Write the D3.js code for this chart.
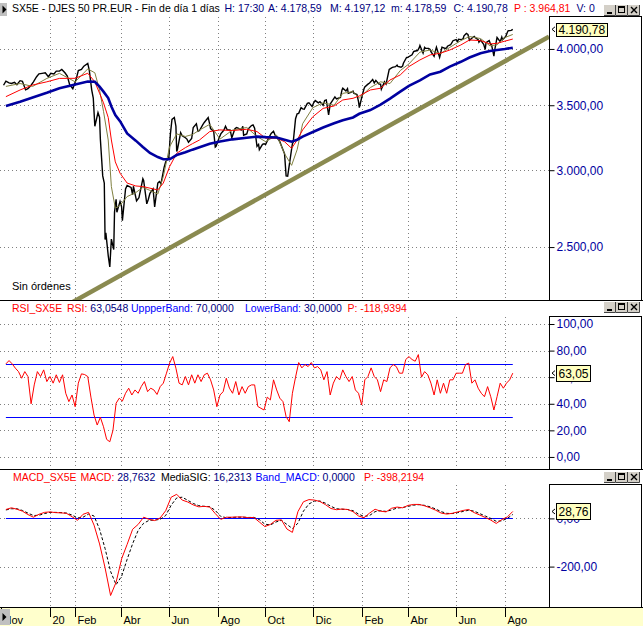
<!DOCTYPE html>
<html>
<head>
<meta charset="utf-8">
<script src="https://cdn.jsdelivr.net/npm/d3@7"></script>
<style>
    html, body { margin: 0; padding: 0; background: #ffffff; }
    svg { display: block; }
</style>
</head>
<body>
<svg id="chart"></svg>
<script>
const priceData = [
    ['2019-11-04',3670],['2019-11-07',3705],['2019-11-11',3690],['2019-11-14',3685],['2019-11-18',3695],['2019-11-21',3675],['2019-11-25',3710],['2019-11-28',3705],
    ['2019-12-02',3630],['2019-12-05',3640],['2019-12-09',3670],['2019-12-12',3700],['2019-12-16',3745],['2019-12-19',3770],['2019-12-23',3775],['2019-12-27',3780],['2019-12-31',3745],
    ['2020-01-03',3775],['2020-01-07',3770],['2020-01-10',3795],['2020-01-14',3795],['2020-01-17',3810],['2020-01-21',3780],['2020-01-24',3750],['2020-01-27',3675],['2020-01-31',3640],
    ['2020-02-04',3715],['2020-02-07',3800],['2020-02-11',3810],['2020-02-14',3840],['2020-02-19',3865],['2020-02-21',3800],['2020-02-24',3630],['2020-02-26',3560],['2020-02-28',3330],
    ['2020-03-03',3440],['2020-03-05',3400],['2020-03-06',3230],['2020-03-09',2960],['2020-03-11',2910],['2020-03-12',2545],['2020-03-13',2586],['2020-03-16',2450],['2020-03-18',2385],
    ['2020-03-20',2548],['2020-03-23',2485],['2020-03-24',2716],['2020-03-26',2800],['2020-03-27',2715],['2020-03-31',2786],
    ['2020-04-02',2750],['2020-04-03',2662],['2020-04-07',2870],['2020-04-09',2893],['2020-04-14',2880],['2020-04-16',2830],['2020-04-17',2888],['2020-04-21',2790],['2020-04-24',2810],['2020-04-29',2940],['2020-04-30',2928],
    ['2020-05-04',2770],['2020-05-06',2800],['2020-05-08',2840],['2020-05-12',2870],['2020-05-14',2750],['2020-05-18',2910],['2020-05-20',2920],['2020-05-22',2905],['2020-05-26',3020],['2020-05-28',3060],
    ['2020-06-01',3090],['2020-06-03',3270],['2020-06-05',3384],['2020-06-08',3400],['2020-06-10',3330],['2020-06-11',3137],['2020-06-12',3153],['2020-06-16',3280],['2020-06-18',3255],['2020-06-22',3240],['2020-06-24',3230],['2020-06-26',3206],['2020-06-30',3234],
    ['2020-07-02',3320],['2020-07-06',3350],['2020-07-08',3290],['2020-07-10',3296],['2020-07-14',3340],['2020-07-16',3360],['2020-07-21',3400],['2020-07-23',3345],['2020-07-24',3311],['2020-07-28',3290],['2020-07-30',3170],['2020-07-31',3175],
    ['2020-08-04',3240],['2020-08-06',3270],['2020-08-10',3300],['2020-08-12',3330],['2020-08-14',3303],['2020-08-18',3300],['2020-08-20',3240],['2020-08-24',3310],['2020-08-26',3320],['2020-08-28',3315],
    ['2020-09-01',3300],['2020-09-03',3330],['2020-09-04',3260],['2020-09-08',3270],['2020-09-10',3310],['2020-09-14',3335],['2020-09-16',3340],['2020-09-18',3315],['2020-09-21',3175],['2020-09-23',3190],['2020-09-24',3150],['2020-09-28',3190],['2020-09-30',3194],
    ['2020-10-02',3190],['2020-10-06',3240],['2020-10-09',3273],['2020-10-12',3290],['2020-10-14',3260],['2020-10-16',3245],['2020-10-20',3210],['2020-10-22',3180],['2020-10-26',3120],['2020-10-28',2960],['2020-10-30',2958],
    ['2020-11-03',3115],['2020-11-05',3195],['2020-11-06',3206],['2020-11-09',3390],['2020-11-11',3430],['2020-11-13',3433],['2020-11-16',3480],['2020-11-18',3470],['2020-11-20',3468],['2020-11-24',3515],['2020-11-26',3520],['2020-11-30',3490],
    ['2020-12-02',3520],['2020-12-04',3539],['2020-12-08',3520],['2020-12-10',3530],['2020-12-14',3500],['2020-12-16',3540],['2020-12-18',3545],['2020-12-21',3420],['2020-12-23',3510],['2020-12-29',3570],['2020-12-31',3553],
    ['2021-01-05',3565],['2021-01-07',3630],['2021-01-08',3645],['2021-01-12',3620],['2021-01-14',3640],['2021-01-15',3600],['2021-01-19',3610],['2021-01-21',3620],['2021-01-22',3602],['2021-01-26',3590],['2021-01-28',3530],['2021-01-29',3481],
    ['2021-02-02',3590],['2021-02-04',3640],['2021-02-05',3656],['2021-02-09',3680],['2021-02-11',3690],['2021-02-15',3720],['2021-02-17',3690],['2021-02-19',3713],['2021-02-23',3680],['2021-02-25',3680],['2021-02-26',3636],
    ['2021-03-02',3700],['2021-03-04',3680],['2021-03-08',3810],['2021-03-10',3820],['2021-03-12',3829],['2021-03-16',3835],['2021-03-18',3850],['2021-03-19',3837],['2021-03-23',3830],['2021-03-25',3840],['2021-03-26',3867],['2021-03-30',3920],['2021-03-31',3919],
    ['2021-04-06',3945],['2021-04-08',3975],['2021-04-09',3978],['2021-04-13',3985],['2021-04-15',4010],['2021-04-16',4032],['2021-04-20',3960],['2021-04-22',4015],['2021-04-23',4007],['2021-04-27',4005],['2021-04-29',3995],['2021-04-30',3974],
    ['2021-05-04',3930],['2021-05-06',3990],['2021-05-07',4017],['2021-05-11',3920],['2021-05-12',3950],['2021-05-14',4017],['2021-05-18',4005],['2021-05-20',4010],['2021-05-21',4026],['2021-05-25',4040],['2021-05-27',4065],['2021-05-28',4079],
    ['2021-06-01',4090],['2021-06-03',4070],['2021-06-04',4094],['2021-06-08',4090],['2021-06-10',4100],['2021-06-11',4127],['2021-06-14',4150],['2021-06-16',4140],['2021-06-18',4083],['2021-06-22',4110],['2021-06-24',4120],['2021-06-25',4111],['2021-06-29',4090],['2021-06-30',4064],
    ['2021-07-02',4084],['2021-07-06',4045],['2021-07-08',3995],['2021-07-09',4060],['2021-07-13',4080],['2021-07-15',4040],['2021-07-16',4040],['2021-07-19',3933],['2021-07-20',3990],['2021-07-22',4070],['2021-07-23',4110],['2021-07-27',4070],['2021-07-29',4115],['2021-07-30',4089],
    ['2021-08-03',4120],['2021-08-05',4160],['2021-08-06',4176],['2021-08-10',4180],['2021-08-12',4190.78]
];

// moving averages, read at these dates
const maDates = [
    '2019-11-07','2019-11-25','2019-12-11','2019-12-29','2020-01-14','2020-02-03','2020-02-19','2020-02-28','2020-03-05','2020-03-10',
    '2020-03-16','2020-03-20','2020-03-25','2020-03-31','2020-04-09','2020-04-20','2020-04-29','2020-05-08','2020-05-18','2020-05-25',
    '2020-06-02','2020-06-11','2020-06-22','2020-07-01','2020-07-10','2020-07-23','2020-08-05','2020-08-21','2020-09-08','2020-09-21',
    '2020-10-02','2020-10-16','2020-10-26','2020-11-04','2020-11-11','2020-11-18','2020-12-01','2020-12-14','2020-12-28','2021-01-08',
    '2021-01-21','2021-01-29','2021-02-12','2021-02-25','2021-03-09','2021-03-22','2021-04-02','2021-04-16','2021-04-29','2021-05-12',
    '2021-05-24','2021-06-07','2021-06-18','2021-07-02','2021-07-14','2021-07-23','2021-08-02','2021-08-12'
];
const maFast = [
    3660,3685,3660,3730,3775,3700,3815,3780,3629,3450,
    3223,2886,2742,2760,2818,2845,2880,2860,2835,2956,
    3172,3270,3250,3265,3300,3345,3230,3300,3320,3250,
    3210,3260,3120,3035,3150,3350,3480,3520,3500,3600,
    3615,3560,3650,3700,3685,3800,3860,3970,3990,3955,
    4015,4080,4120,4100,4030,4040,4110,4140
];
const maMid = [
    3572,3629,3672,3700,3730,3731,3776,3700,3601,3520,
    3400,3223,3060,2979,2910,2890,2886,2875,2863,2910,
    3026,3123,3165,3195,3223,3288,3301,3296,3306,3288,
    3237,3237,3210,3160,3223,3301,3406,3474,3494,3544,
    3558,3578,3629,3644,3716,3761,3836,3897,3944,3960,
    3990,4038,4086,4080,4048,4054,4075,4095
];
const maSlow = [
    3494,3530,3565,3605,3644,3677,3703,3700,3658,3615,
    3560,3490,3420,3370,3274,3218,3170,3125,3095,3079,
    3079,3110,3130,3150,3168,3195,3212,3228,3240,3249,
    3245,3242,3225,3210,3225,3249,3285,3320,3353,3378,
    3400,3430,3460,3505,3555,3615,3665,3712,3765,3790,
    3836,3880,3920,3960,3980,3990,4000,4012
];
const trendLine = [['2020-01-14', 2156], ['2021-09-27', 4119]];

// RSI, one reading every 4 days
const rsiStart = '2019-11-07';
const rsiStepDays = 4;
const rsiValues = [
    70,72.5,70,66.8,64.2,59.2,64.2,60.5,40,54.2,
    64.2,60.5,65.5,56.7,60.5,55.5,61.8,56,61.8,47.9,
    41.6,46.6,37.8,55.5,62.5,62,60.5,45,31.5,24,
    29.8,22.7,13.2,11.4,20,40.4,44.2,42,47.9,51.7,
    46.6,50.4,47.9,53,56.7,49.1,51.7,50.4,47,52.9,
    55.5,63,70.6,75.5,66.8,55.5,54.2,60.5,54.2,61.8,
    55.5,61.8,56.7,61.8,63,58,50.4,37.8,46.6,49.1,
    59.2,51.7,47.9,56.7,46.6,52.9,47.9,52.9,54.2,54.2,
    38,36.6,35.3,45,42.9,58,50.4,44.2,41.6,30.3,
    26.5,47.9,60,71,67,69.5,68,71,67,68,
    65.5,58,64.2,46.6,55.5,60.5,58,65.5,60.5,56.7,
    60.5,50.4,47.9,39.1,58,60.5,67,60.5,58,49.1,
    58,56.7,67,69.5,68,63,63,73.3,75.5,73.3,
    72,77,60,64.2,61.8,55.5,46.6,58,47.9,55.5,
    47.9,58,58,63,63,63,69.5,70.6,55.5,58,
    51.7,47.9,45.3,52.9,45.3,35.3,45.3,55.5,51.7,55.5,
    58,63.05
];
const rsiBands = [70, 30];

// MACD and its signal, one reading a week
const macdStart = '2019-11-07';
const macdStepDays = 7;
const macdValues = [
    37,44,38,30,16,5,17,25,27,24,
    23,21,7,-8,17,25,-28,-106,-205,-320,
    -265,-168,-108,-45,-25,5,-4,-9,2,32,
    88,100,76,68,56,48,50,47,20,-4,
    5,5,6,6,3,4,-15,-34,-25,-8,
    -6,-44,-58,28,69,78,76,70,57,41,
    36,39,37,28,10,3,22,38,30,27,
    42,47,44,54,58,58,52,44,34,22,
    18,21,27,33,37,24,14,4,-7,-21,
    -5,6,28.76
];
const signalValues = [
    35,40,40,33,22,12,13,20,25,25,
    24,22,14,2,5,18,10,-45,-125,-220,
    -275,-240,-170,-105,-50,-20,-8,-7,-4,12,
    55,85,88,75,62,53,50,49,33,8,
    3,4,5,5,4,4,-5,-24,-27,-15,
    -8,-25,-42,-20,30,60,72,72,63,50,
    40,38,37,32,18,8,12,28,32,29,
    35,43,45,50,55,57,54,48,39,28,
    21,20,24,29,34,30,20,10,0,-12,
    -10,0,16.23
];
const macdBand = 0;

const priceTicks = [2500, 3000, 3500, 4000];
const rsiTicks = [0, 20, 40, 60, 80, 100];
const macdTicks = [-200, 0];
const dateTicks = [
    ['2019-11-01','Nov'],['2020-01-02','20'],['2020-02-03','Feb'],['2020-04-01','Abr'],['2020-06-01','Jun'],['2020-08-03','Ago'],
    ['2020-10-01','Oct'],['2020-12-01','Dic'],['2021-02-01','Feb'],['2021-04-01','Abr'],['2021-06-01','Jun'],['2021-08-02','Ago']
];

const parseDay = d3.timeParse('%Y-%m-%d');
const esLocale = d3.formatLocale({ decimal: ',', thousands: '.', grouping: [3], currency: ['', ' €'], minus: '-' });
const fmt2 = esLocale.format(',.2f');

const NAVY = '#000080';
const RED = '#ff0000';
const BLUE = '#0000ff';

class SxChart {
    constructor (selector) {
        this.width = 643;
        this.height = 626;
        this.plotRight = 549;

        this.svg = d3.select(selector)
            .attr('width', this.width)
            .attr('height', this.height)
            .style('font-family', "'Liberation Sans', Arial, sans-serif");

        this.defs = this.svg.append('defs');

        this.x = d3.scaleTime()
            .domain([new Date(2019, 9, 30, 12), new Date(2021, 8, 27)])
            .range([0, this.plotRight]);

        this.yPrice = d3.scaleLog().domain([2205, 4315]).range([300, 17]);
        this.yRsi = d3.scaleLinear().domain([-9.3, 105.5]).range([469.3, 316.7]);
        this.yMacd = d3.scaleLinear().domain([-370.5, 141.5]).range([607.7, 484.3]);
    }
    pairs (list) {
        return list.map((d) => { return { date: parseDay(d[0]), value: d[1] }; });
    }
    onDates (dates, values) {
        return values.map((v, i) => { return { date: parseDay(dates[i]), value: v }; });
    }
    stepped (start, step, values) {
        let first = parseDay(start);
        return values.map((v, i) => {
            return { date: d3.timeDay.offset(first, i * step), value: v };
        });
    }
    makeClip (id, top, bottom) {
        this.defs.append('clipPath')
            .attr('id', id)
            .append('rect')
            .attr('x', 0)
            .attr('y', top)
            .attr('width', this.plotRight)
            .attr('height', bottom - top);

        return 'url(#' + id + ')';
    }
    makeLine (y) {
        return d3.line()
            .x((d) => { return this.x(d.date); })
            .y((d) => { return y(d.value); });
    }
    drawFrames () {
        let svg = this.svg;

        svg.append('rect')
            .attr('x', 0).attr('y', 608)
            .attr('width', this.width).attr('height', 18)
            .attr('fill', '#ffffcc');

        let boxes = [[16.5, 300.5], [316.5, 469.5], [484.5, 607.5]];
        svg.selectAll('rect.axisbox')
            .data(boxes)
            .enter()
            .append('rect')
            .attr('class', 'axisbox')
            .attr('x', this.plotRight + 0.5)
            .attr('y', (d) => { return d[0]; })
            .attr('width', 92)
            .attr('height', (d) => { return d[1] - d[0]; })
            .attr('fill', '#ffffff')
            .attr('stroke', '#000000');

        svg.selectAll('line.sep')
            .data([300.5, 469.5, 607.5])
            .enter()
            .append('line')
            .attr('class', 'sep')
            .attr('x1', 0).attr('x2', this.width)
            .attr('y1', (d) => { return d; })
            .attr('y2', (d) => { return d; })
            .attr('stroke', '#000000');
    }
    drawGrid (y, ticks, top, bottom) {
        let g = this.svg.append('g').attr('class', 'grid');
        let xs = dateTicks
            .map((d) => { return Math.round(this.x(parseDay(d[0]))) + 0.5; })
            .filter((x) => { return x > 10; });

        g.selectAll('line.v')
            .data(xs)
            .enter()
            .append('line')
            .attr('x1', (d) => { return d; })
            .attr('x2', (d) => { return d; })
            .attr('y1', top)
            .attr('y2', bottom)
            .attr('stroke', '#808080')
            .attr('stroke-dasharray', '1,3');

        g.selectAll('line.h')
            .data(ticks)
            .enter()
            .append('line')
            .attr('x1', 0)
            .attr('x2', this.plotRight)
            .attr('y1', (d) => { return Math.round(y(d)) + 0.5; })
            .attr('y2', (d) => { return Math.round(y(d)) + 0.5; })
            .attr('stroke', '#808080')
            .attr('stroke-dasharray', '1,3');
    }
    drawYAxis (y, ticks) {
        let axis = d3.axisRight(y)
            .tickValues(ticks)
            .tickSize(5)
            .tickPadding(2)
            .tickFormat(fmt2);

        let g = this.svg.append('g')
            .attr('transform', 'translate(' + (this.plotRight + 0.5) + ',0)')
            .call(axis)
            .attr('font-family', null)
            .attr('font-size', 12);

        g.select('.domain').remove();
        g.selectAll('.tick line').attr('stroke', '#000000');
        g.selectAll('.tick text').attr('fill', '#0000a0');
    }
    drawTag (y, value, w, h) {
        let yv = y(value);
        let g = this.svg.append('g').attr('class', 'tag');

        g.append('path')
            .attr('d', 'M555,' + (yv - 2.5) + 'L552,' + yv + 'L555,' + (yv + 2.5))
            .attr('fill', 'none')
            .attr('stroke', '#000000');

        g.append('rect')
            .attr('x', 556.5)
            .attr('y', Math.round(yv - h / 2) + 0.5)
            .attr('width', w)
            .attr('height', h)
            .attr('fill', '#ffffc0')
            .attr('stroke', '#000000');

        g.append('text')
            .attr('x', 558.5)
            .attr('y', yv + 4.5)
            .attr('font-size', 12)
            .attr('fill', '#000000')
            .text(fmt2(value));
    }
    drawPricePanel () {
        let y = this.yPrice;
        this.drawGrid(y, priceTicks, 17, 300);

        let g = this.svg.append('g').attr('clip-path', this.makeClip('clip-price', 17, 300));

        g.append('path')
            .datum(this.pairs(trendLine))
            .attr('d', this.makeLine(y))
            .attr('fill', 'none')
            .attr('stroke', '#8a8a50')
            .attr('stroke-width', 4.5);

        g.append('path')
            .datum(this.pairs(priceData))
            .attr('d', this.makeLine(y))
            .attr('fill', 'none')
            .attr('stroke', '#000000')
            .attr('stroke-width', 1.4);

        let averages = [
            { values: maFast, color: '#808040', width: 1 },
            { values: maMid, color: RED, width: 1 },
            { values: maSlow, color: '#0000a0', width: 2.6 },
        ];
        for (let ma of averages)
            g.append('path')
                .datum(this.onDates(maDates, ma.values))
                .attr('d', this.makeLine(y))
                .attr('fill', 'none')
                .attr('stroke', ma.color)
                .attr('stroke-width', ma.width);

        this.svg.append('text')
            .attr('x', 12).attr('y', 290)
            .attr('font-size', 11)
            .text('Sin órdenes');

        this.drawYAxis(y, priceTicks);
        this.drawTag(y, priceData[priceData.length - 1][1], 51, 13);
    }
    drawRsiPanel () {
        let y = this.yRsi;
        this.drawGrid(y, rsiTicks, 317, 469);

        let rsi = this.stepped(rsiStart, rsiStepDays, rsiValues);
        let first = rsi[0].date;
        let last = rsi[rsi.length - 1].date;
        let g = this.svg.append('g').attr('clip-path', this.makeClip('clip-rsi', 317, 469));

        g.selectAll('line.band')
            .data(rsiBands)
            .enter()
            .append('line')
            .attr('x1', this.x(first))
            .attr('x2', this.x(last))
            .attr('y1', (d) => { return Math.round(y(d)) + 0.5; })
            .attr('y2', (d) => { return Math.round(y(d)) + 0.5; })
            .attr('stroke', BLUE);

        g.append('path')
            .datum(rsi)
            .attr('d', this.makeLine(y))
            .attr('fill', 'none')
            .attr('stroke', RED)
            .attr('stroke-width', 1);

        this.drawYAxis(y, rsiTicks);
        this.drawTag(y, rsiValues[rsiValues.length - 1], 34, 16);
    }
    drawMacdPanel () {
        let y = this.yMacd;
        this.drawGrid(y, macdTicks, 485, 607);

        let macd = this.stepped(macdStart, macdStepDays, macdValues);
        let signal = this.stepped(macdStart, macdStepDays, signalValues);
        let g = this.svg.append('g').attr('clip-path', this.makeClip('clip-macd', 485, 607));

        g.append('line')
            .attr('x1', this.x(macd[0].date))
            .attr('x2', this.x(macd[macd.length - 1].date))
            .attr('y1', Math.round(y(macdBand)) + 0.5)
            .attr('y2', Math.round(y(macdBand)) + 0.5)
            .attr('stroke', BLUE);

        g.append('path')
            .datum(signal)
            .attr('d', this.makeLine(y))
            .attr('fill', 'none')
            .attr('stroke', '#000000')
            .attr('stroke-dasharray', '3,2');

        g.append('path')
            .datum(macd)
            .attr('d', this.makeLine(y))
            .attr('fill', 'none')
            .attr('stroke', RED)
            .attr('stroke-width', 1);

        this.drawYAxis(y, macdTicks);
        this.drawTag(y, macdValues[macdValues.length - 1], 34, 16);
    }
    drawDateAxis () {
        let g = this.svg.append('g').attr('class', 'dates');
        let ticks = dateTicks.map((d) => {
            return { x: Math.round(this.x(parseDay(d[0]))) + 0.5, label: d[1] };
        });

        g.selectAll('line')
            .data(ticks)
            .enter()
            .append('line')
            .attr('x1', (d) => { return d.x; })
            .attr('x2', (d) => { return d.x; })
            .attr('y1', 608)
            .attr('y2', 617)
            .attr('stroke', '#000000');

        g.selectAll('text')
            .data(ticks)
            .enter()
            .append('text')
            .attr('x', (d) => { return d.x + 2; })
            .attr('y', 624)
            .attr('font-size', 11)
            .text((d) => { return d.label; });

        this.drawArrowBox(0, 609, 10, 16);
    }
    drawArrowBox (x, y, w, h) {
        this.svg.append('rect')
            .attr('x', x).attr('y', y)
            .attr('width', w).attr('height', h)
            .attr('fill', '#c0c0c0');

        let cy = y + h / 2;
        this.svg.append('path')
            .attr('d', 'M' + (x + 2.5) + ',' + (cy - 4) + 'L' + (x + 6.5) + ',' + cy + 'L' + (x + 2.5) + ',' + (cy + 4) + 'Z')
            .attr('fill', '#000000');
    }
    drawButtons (y) {
        let g = this.svg.append('g').attr('class', 'buttons');

        for (let x of [604, 616, 628]) {
            g.append('rect')
                .attr('x', x).attr('y', y)
                .attr('width', 11).attr('height', 10)
                .attr('fill', '#d4d0c8');
            g.append('path')
                .attr('d', 'M' + x + ',' + (y + 10.5) + 'h11.5M' + (x + 11.5) + ',' + y + 'v10.5')
                .attr('stroke', '#404040');
        }

        g.append('rect')
            .attr('x', 607).attr('y', y + 7)
            .attr('width', 5).attr('height', 2)
            .attr('fill', '#000000');

        g.append('rect')
            .attr('x', 618.5).attr('y', y + 1.5)
            .attr('width', 6).attr('height', 6)
            .attr('fill', 'none')
            .attr('stroke', '#000000');
        g.append('line')
            .attr('x1', 618.5).attr('x2', 624.5)
            .attr('y1', y + 2.5).attr('y2', y + 2.5)
            .attr('stroke', '#000000');

        g.append('path')
            .attr('d', 'M631,' + (y + 2) + 'L637,' + (y + 8) + 'M637,' + (y + 2) + 'L631,' + (y + 8))
            .attr('stroke', '#000000')
            .attr('stroke-width', 1.4);
    }
    drawHeader (y, groups) {
        for (let grp of groups) {
            let text = this.svg.append('text')
                .attr('x', grp.x)
                .attr('y', y)
                .attr('font-size', 10.5)
                .attr('xml:space', 'preserve');

            text.append('tspan')
                .attr('fill', grp.color)
                .text(grp.label);

            if (grp.value)
                text.append('tspan')
                    .attr('fill', grp.valueColor || grp.color)
                    .text(' ' + grp.value);
        }
    }
    drawHeaders () {
        this.drawArrowBox(0, 3, 7, 13);

        this.drawHeader(12, [
            { x: 12, label: 'SX5E - DJES 50 PR.EUR - Fin de día 1 días', color: '#000000' },
            { x: 224.5, label: 'H:', value: '17:30', color: NAVY },
            { x: 268, label: 'A:', value: '4.178,59', color: NAVY },
            { x: 330, label: 'M:', value: '4.197,12', color: NAVY },
            { x: 391, label: 'm:', value: '4.178,59', color: NAVY },
            { x: 453.5, label: 'C:', value: '4.190,78', color: NAVY },
            { x: 514, label: 'P :', value: '3.964,81', color: RED },
            { x: 576.5, label: 'V:', value: '0', color: NAVY },
        ]);
        this.drawButtons(5);

        this.drawHeader(312, [
            { x: 12, label: 'RSI_SX5E', color: RED },
            { x: 67, label: 'RSI:', value: '63,0548', color: RED, valueColor: NAVY },
            { x: 131, label: 'UppperBand:', value: '70,0000', color: BLUE, valueColor: NAVY },
            { x: 245, label: 'LowerBand:', value: '30,0000', color: BLUE, valueColor: NAVY },
            { x: 347.5, label: 'P:', value: '-118,9394', color: RED },
        ]);
        this.drawButtons(302);

        this.drawHeader(480.5, [
            { x: 13, label: 'MACD_SX5E', color: RED },
            { x: 80.5, label: 'MACD:', value: '28,7632', color: RED, valueColor: NAVY },
            { x: 161, label: 'MediaSIG:', value: '16,2313', color: '#000000', valueColor: NAVY },
            { x: 255.5, label: 'Band_MACD:', value: '0,0000', color: BLUE, valueColor: NAVY },
            { x: 364, label: 'P:', value: '-398,2194', color: RED },
        ]);
        this.drawButtons(472);
    }
    draw () {
        this.drawFrames();
        this.drawPricePanel();
        this.drawRsiPanel();
        this.drawMacdPanel();
        this.drawDateAxis();
        this.drawHeaders();
    }
}

new SxChart('#chart').draw();
</script>
</body>
</html>
